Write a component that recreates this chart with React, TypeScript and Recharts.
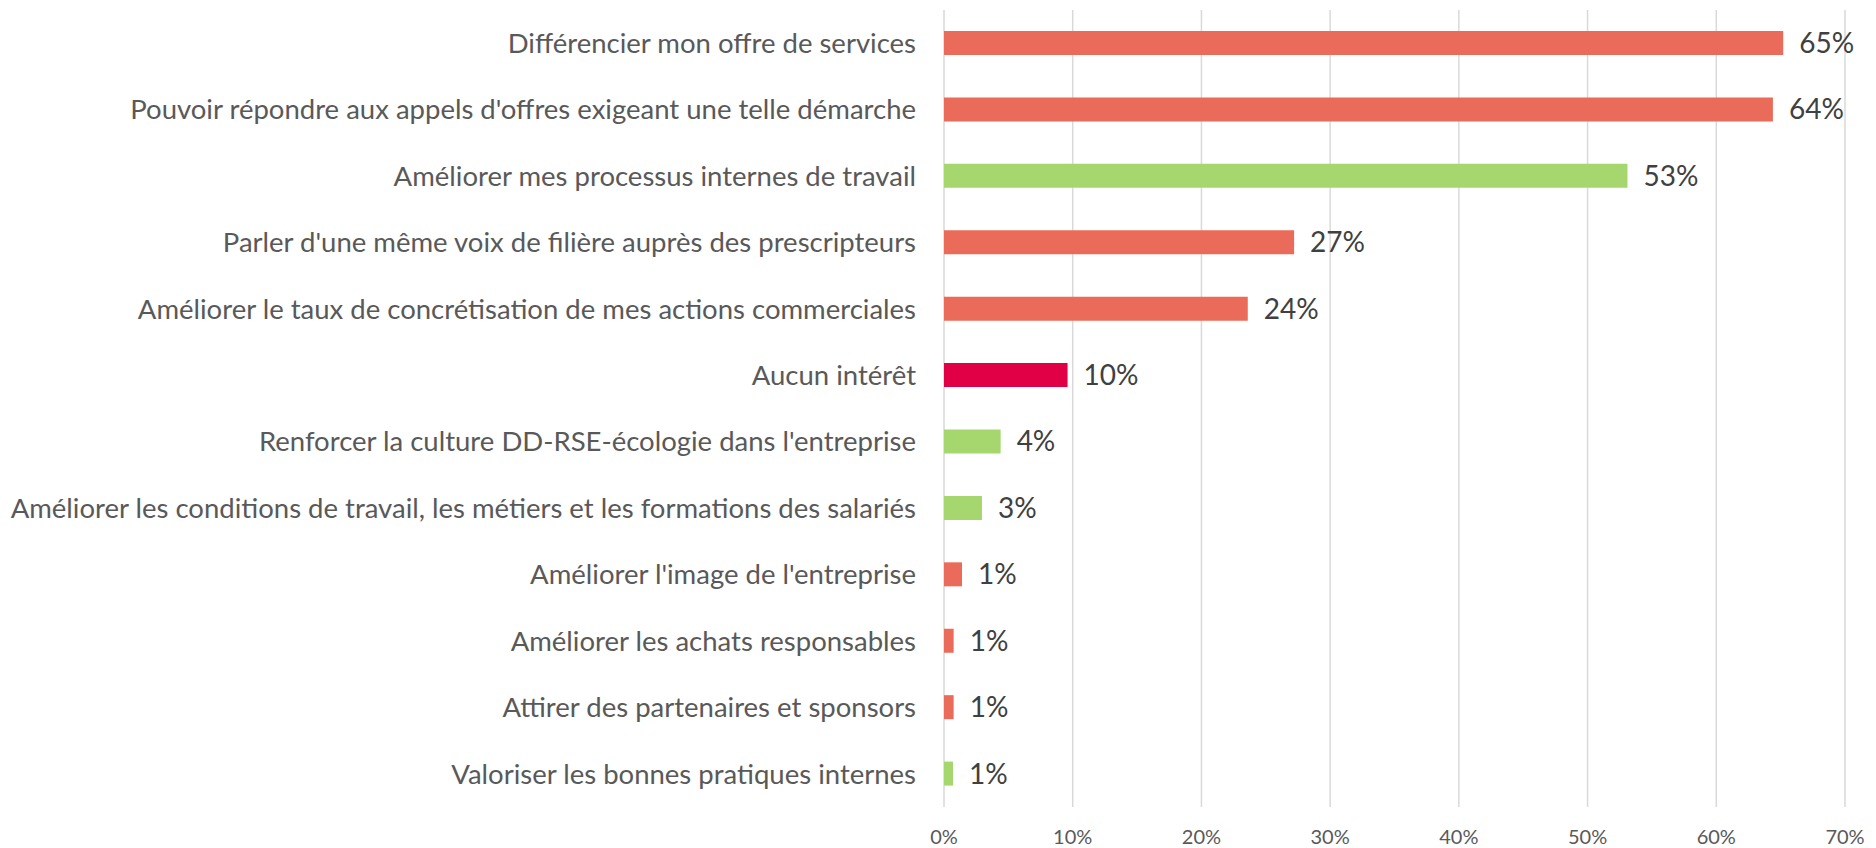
import { BarChart, Bar, XAxis, YAxis, CartesianGrid, Cell, LabelList } from 'recharts';

// Motivations, top to bottom (share of respondents, %)
const categories = [
  'Différencier mon offre de services',
  "Pouvoir répondre aux appels d'offres exigeant une telle démarche",
  'Améliorer mes processus internes de travail',
  "Parler d'une même voix de filière auprès des prescripteurs",
  'Améliorer le taux de concrétisation de mes actions commerciales',
  'Aucun intérêt',
  "Renforcer la culture DD-RSE-écologie dans l'entreprise",
  'Améliorer les conditions de travail, les métiers et les formations des salariés',
  "Améliorer l'image de l'entreprise",
  'Améliorer les achats responsables',
  'Attirer des partenaires et sponsors',
  'Valoriser les bonnes pratiques internes',
];
const values = [65.2, 64.4, 53.1, 27.2, 23.6, 9.6, 4.4, 2.95, 1.4, 0.75, 0.75, 0.7];
const groups = ['red', 'red', 'green', 'red', 'red', 'none', 'green', 'green', 'red', 'red', 'red', 'green'];
const xTicks = [0, 10, 20, 30, 40, 50, 60, 70];

const COLORS: Record<string, string> = {
  red: '#EA6B5A',
  green: '#A5D76E',
  none: '#E10046',
};

const FONT = 'Lato, "Open Sans", sans-serif';

const data = categories.map((name, i) => ({ name, value: values[i], group: groups[i] }));

export default function App() {
  return (
    <div style={{ position: 'absolute', left: 0, top: 0, width: 1876, height: 848, background: '#fff', fontFamily: FONT }}>
      <BarChart
        width={1876}
        height={848}
        data={data}
        layout="vertical"
        margin={{ top: 10, right: 31, bottom: 11, left: 0 }}
        barCategoryGap={0}
      >
        <CartesianGrid horizontal={false} stroke="#D9D9D9" strokeWidth={1.5} />
        <XAxis
          type="number"
          domain={[0, 70]}
          ticks={xTicks}
          tickFormatter={(v) => `${v}%`}
          axisLine={false}
          tickLine={false}
          tickSize={0}
          tickMargin={23}
          height={30}
          tick={{ fill: '#595959', fontSize: 20, fontFamily: FONT }}
        />
        <YAxis
          type="category"
          dataKey="name"
          width={944}
          axisLine={false}
          tickLine={false}
          tickSize={0}
          tickMargin={28}
          interval={0}
          tick={{ fill: '#595959', fontSize: 27.5, fontFamily: FONT }}
        />
        <Bar dataKey="value" barSize={24} isAnimationActive={false}>
          {data.map((d) => (
            <Cell key={d.name} fill={COLORS[d.group]} />
          ))}
          <LabelList
            dataKey="value"
            position="right"
            offset={16}
            formatter={(v: number) => `${Math.round(v)}%`}
            style={{ fill: '#404040', fontSize: 28, fontFamily: FONT }}
          />
        </Bar>
      </BarChart>
    </div>
  );
}
